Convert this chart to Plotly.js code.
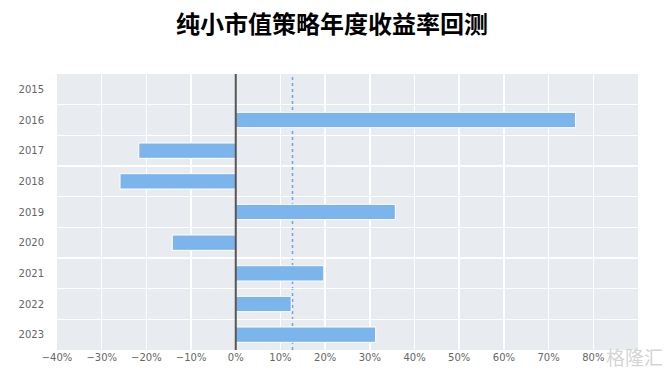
<!DOCTYPE html>
<html><head><meta charset="utf-8">
<script src="https://cdn.plot.ly/plotly-3.0.1.min.js"></script>
<style>body{margin:0;background:#fff}#c{width:672px;height:380px}</style>
</head><body><div id="c"></div>
<script>
const years = [2015, 2016, 2017, 2018, 2019, 2020, 2021, 2022, 2023];
const returns = [0, 76.0, -21.7, -25.9, 35.7, -14.2, 19.7, 12.4, 31.3];
const meanLine = 12.7;
const xTicks = [-40, -30, -20, -10, 0, 10, 20, 30, 40, 50, 60, 70, 80];
const xTickText = xTicks.map(v => (v < 0 ? '\u2212' + (-v) : v) + '%');
const titleText = '纯小市值策略年度收益率回测';

const trace = {
  type: 'bar', orientation: 'h',
  x: returns, y: years,
  width: 0.5,
  marker: {color: '#7cb5ec', line: {color: '#ffffff', width: 1}},
  hoverinfo: 'x+y'
};
const layout = {
  width: 672, height: 380,
  margin: {l: 57, r: 34, t: 74, b: 30},
  paper_bgcolor: '#ffffff', plot_bgcolor: '#e8ebf0',
  showlegend: false,
  title: {text: '<b>' + titleText + '</b>', x: 0.494, xanchor: 'center', y: 0.935, yanchor: 'middle',
          font: {family: 'Noto Sans CJK SC', size: 24, color: '#000'}},
  font: {family: 'DejaVu Sans', size: 10, color: '#666'},
  xaxis: {range: [-40, 90], tickvals: xTicks, ticktext: xTickText, showgrid: true, gridcolor: '#ffffff', gridwidth: 1.5,
          zeroline: false, ticks: '', fixedrange: true,
          tickfont: {family: 'DejaVu Sans', size: 10, color: '#666'}},
  yaxis: {range: [2023.5, 2014.5], tickvals: years, ticktext: years.map(String), showgrid: false, zeroline: false, ticks: '',
          ticklabelstandoff: 12,
          minor: {tick0: 2014.5, dtick: 1, showgrid: true, gridcolor: '#ffffff', gridwidth: 1.5, ticks: ''},
          tickfont: {family: 'DejaVu Sans', size: 10, color: '#666'}},
  shapes: [
    {type: 'line', xref: 'x', yref: 'paper', x0: meanLine, x1: meanLine, y0: 0, y1: 1, layer: 'below',
     line: {color: '#6aa6e3', width: 1.5, dash: 'dot'}},
    {type: 'line', xref: 'x', yref: 'paper', x0: 0, x1: 0, y0: 0, y1: 1, layer: 'above',
     line: {color: '#555555', width: 2}}
  ],
  annotations: [{text: '格隆汇', xref: 'paper', yref: 'paper', x: 1.047, y: -0.025, xanchor: 'right', yanchor: 'middle',
                 showarrow: false, font: {family: 'Noto Sans CJK SC', size: 19, color: 'rgba(205,205,205,0.85)'}}]
};
Plotly.newPlot('c', [trace], layout, {displayModeBar: false, staticPlot: true});
</script></body></html>
